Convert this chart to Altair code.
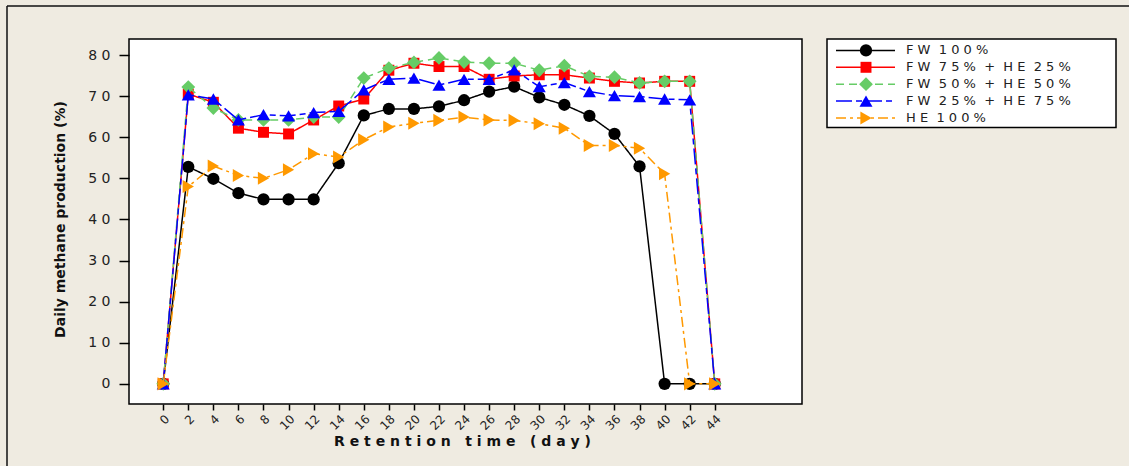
import altair as alt
import pandas as pd

NB = "\u00A0"  # non-breaking space so runs of spaces are kept in SVG text

# ---------------- data ----------------
days = list(range(0, 46, 2))

fw100 = [0, 52.8, 49.9, 46.4, 44.9, 44.9, 44.9, 53.7, 65.3, 66.9, 66.9, 67.5,
         69.0, 71.1, 72.3, 69.7, 67.9, 65.2, 60.8, 52.9, 0, 0, 0]
fw75_he25 = [0, 70.5, 68.5, 62.2, 61.2, 60.8, 64.2, 67.6, 69.3, 76.3, 78.0, 77.2,
             77.2, 74.1, 74.9, 75.2, 75.2, 74.4, 73.6, 73.2, 73.6, 73.6, 0]
fw50_he50 = [0, 72.2, 67.1, 64.2, 64.2, 64.2, 64.9, 64.9, 74.4, 76.8, 78.2, 79.3,
             78.3, 78.0, 78.0, 76.3, 77.4, 74.8, 74.6, 73.2, 73.6, 73.6, 0]
fw25_he75 = [0, 70.3, 69.3, 64.2, 65.5, 65.2, 66.0, 66.3, 71.5, 74.1, 74.4, 72.7,
             74.1, 74.1, 76.4, 72.3, 73.3, 71.1, 70.1, 69.9, 69.3, 69.1, 0]
he100 = [0, 48.0, 53.0, 50.7, 50.0, 52.1, 56.0, 55.2, 59.4, 62.5, 63.4, 64.1,
         64.9, 64.2, 64.1, 63.3, 62.2, 58.0, 58.0, 57.3, 51.1, 0, 0]

series_labels = [
    "F W  1 0 0 %",
    "F W  7 5 %  +  H E  2 5 %",
    "F W  5 0 %  +  H E  5 0 %",
    "F W  2 5 %  +  H E  7 5 %",
    "H E  1 0 0 %",
]
series_values = [fw100, fw75_he25, fw50_he50, fw25_he75, he100]

y_ticks = [0, 10, 20, 30, 40, 50, 60, 70, 80]

x_title = "R e t e n t i o n   t i m e   ( d a y )"
y_title = "Daily methane production (%)"

# ---------------- styles ----------------
colors = ["#000000", "#FF0000", "#66CC66", "#0000FF", "#FF9900"]
shapes = ["circle", "square", "diamond", "triangle-up", "triangle-right"]
dashes = [[1, 0], [1, 0], [8, 5], [16, 4, 6, 4], [10, 4, 3, 4]]
sizes = [150, 120, 190, 170, 170]

W, H = 673, 365
FONT = "DejaVu Sans"

x_enc = alt.X(
    "day:Q",
    scale=alt.Scale(domain=[-2.73, 50.96], nice=False, zero=False),
    axis=alt.Axis(
        values=days,
        title=x_title.replace(" ", NB),
        titleFont=FONT, titleFontSize=14, titleFontWeight="bold", titleColor="#111",
        titleX=333, titleY=37, titleBaseline="middle", titleAlign="center",
        labelAngle=-45, labelFont=FONT, labelFontSize=12, labelColor="#222",
        labelPadding=3, tickSize=6, tickWidth=1.5, tickColor="#000",
        domain=False, grid=False, labelOverlap=False,
    ),
)
y_enc = alt.Y(
    "value:Q",
    scale=alt.Scale(domain=[-4.9, 83.9], nice=False, zero=False),
    axis=alt.Axis(
        values=y_ticks,
        labelExpr="join(split(datum.label, ''), ' ')",
        title=y_title,
        titleFont=FONT, titleFontSize=14, titleFontWeight="bold", titleColor="#111",
        titleX=-69, titleY=180, titleAngle=270, titleBaseline="middle", titleAlign="center",
        labelFont=FONT, labelFontSize=14, labelColor="#222", labelPadding=9,
        tickSize=10, tickWidth=1.5, tickColor="#000",
        domain=False, grid=False,
    ),
)

layers = []
for lab, vals, c, s, d, sz in zip(series_labels, series_values, colors, shapes, dashes, sizes):
    df = pd.DataFrame({"day": days, "value": vals})
    layers.append(
        alt.Chart(df).mark_line(color=c, strokeWidth=1.5, strokeDash=d).encode(x=x_enc, y=y_enc)
    )
    layers.append(
        alt.Chart(df).mark_point(shape=s, filled=True, size=sz, color=c, opacity=1, strokeWidth=0)
        .encode(x=x_enc, y=y_enc)
    )

# ---------------- legend (drawn manually) ----------------
one = pd.DataFrame({"k": [0]})
layers.append(
    alt.Chart(one).mark_rect(fill="white", stroke="black", strokeWidth=1.5).encode(
        x=alt.value(698), x2=alt.value(987), y=alt.value(0), y2=alt.value(88.5)
    )
)
for i, (lab, c, s, d, sz) in enumerate(zip(series_labels, colors, shapes, dashes, sizes)):
    yy = 11.4 + 16.9 * i
    ldf = pd.DataFrame({"label": [lab.replace(" ", NB)]})
    layers.append(
        alt.Chart(ldf).mark_rule(color=c, strokeWidth=1.5, strokeDash=d).encode(
            x=alt.value(707), x2=alt.value(766), y=alt.value(yy)
        )
    )
    layers.append(
        alt.Chart(ldf).mark_point(shape=s, filled=True, size=sz, color=c, opacity=1, strokeWidth=0).encode(
            x=alt.value(737), y=alt.value(yy)
        )
    )
    layers.append(
        alt.Chart(ldf).mark_text(align="left", baseline="middle", font=FONT, fontSize=13, color="#222").encode(
            x=alt.value(777), y=alt.value(yy), text="label:N"
        )
    )

# outer frame lines (left and top)
layers.append(
    alt.Chart(one).mark_rule(color="#111", strokeWidth=1.5).encode(
        x=alt.value(-122), y=alt.value(-33), y2=alt.value(430)
    )
)
layers.append(
    alt.Chart(one).mark_rule(color="#111", strokeWidth=1.5).encode(
        x=alt.value(-122), x2=alt.value(1000), y=alt.value(-33)
    )
)

chart = (
    alt.layer(*layers)
    .properties(
        width=W,
        height=H,
        autosize=alt.AutoSizeParams(type="none"),
        padding={"left": 129, "top": 39, "right": 327, "bottom": 62},
        background="#EFEBE1",
    )
    .configure_view(fill="white", stroke="black", strokeWidth=1.5)
)

chart.save("out.html", embed_options={"renderer": "svg", "actions": False})
